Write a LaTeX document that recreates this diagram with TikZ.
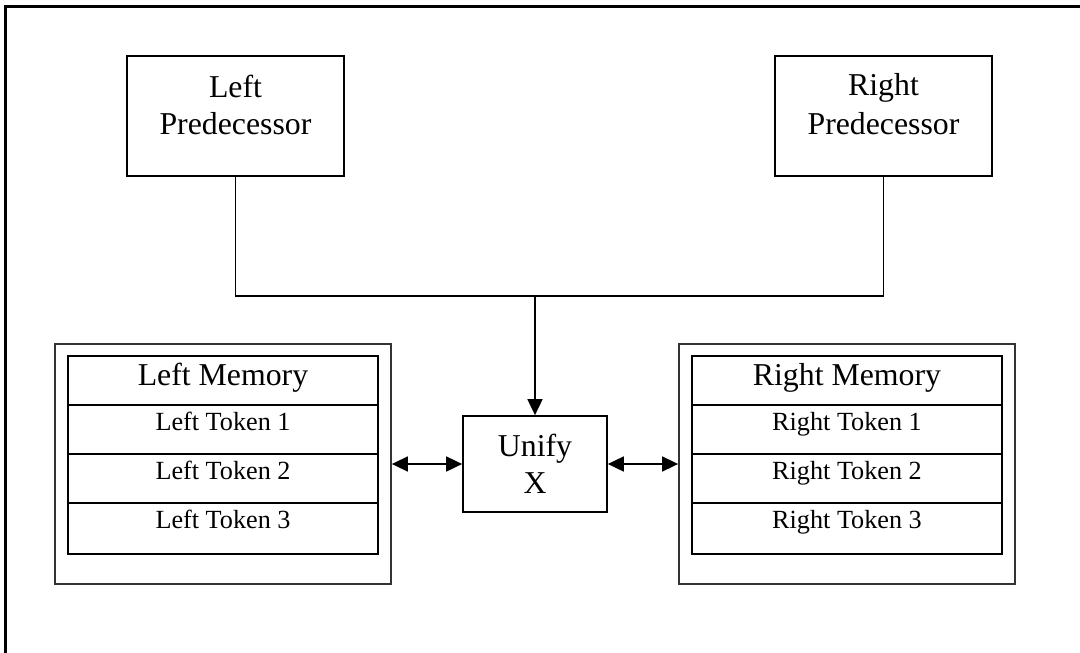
\documentclass[tikz,border=0pt]{standalone}
\usepackage{fontspec}
\setmainfont{Liberation Serif}
\usetikzlibrary{arrows.meta}
\begin{document}
\begin{tikzpicture}[x=1pt,y=-1pt,
  box/.style={draw,line width=1.7pt,inner sep=0pt},
  memframe/.style={draw=black!80,line width=1.8pt,inner sep=0pt},
  memrow/.style={draw,line width=2.3pt,inner sep=0pt,minimum width=310pt},
  bigtext/.style={font=\fontsize{31.8}{37.7}\selectfont,anchor=base,inner sep=0pt},
  smalltext/.style={font=\fontsize{26.2}{30}\selectfont,anchor=base,inner sep=0pt},
  link/.style={line width=1.7pt},
  head/.style={-{Triangle[length=16pt,width=15pt]}},
  twoheads/.style={{Triangle[length=16pt,width=15pt]}-{Triangle[length=16pt,width=15pt]}},
]
\useasboundingbox (0,0) rectangle (1080,653);
\clip (0,0) rectangle (1080,653);

% page frame (only its top and left edges fall inside the page)
\draw[line width=2.2pt] (5.5,6.5) rectangle (1100,680);

% predecessors
\node[box,minimum width=217pt,minimum height=120pt] (lp) at (235.5,116) {};
\node[bigtext] (lpa) at (235.5,97) {Left};
\node[bigtext] (lpb) at (235.5,134.7) {Predecessor};

\node[box,minimum width=217pt,minimum height=120pt] (rp) at (883.5,116) {};
\node[bigtext] (rpa) at (883.5,95.7) {Right};
\node[bigtext] (rpb) at (883.5,134) {Predecessor};

% unify node
\node[box,minimum width=144pt,minimum height=96pt] (ux) at (535,464) {};
\node[bigtext] (uxa) at (535,456) {Unify};
\node[bigtext] (uxb) at (535,493) {X};

% left memory
\node[memframe,minimum width=336pt,minimum height=240pt] (lmem) at (223,464) {};
\node[memrow,minimum height=49pt] (lm0) at (223,380.5) {};
\node[memrow,minimum height=49pt] (lm1) at (223,429.5) {};
\node[memrow,minimum height=49pt] (lm2) at (223,478.5) {};
\node[memrow,minimum height=51pt] (lm3) at (223,528.5) {};
\node[bigtext] (lmt0) at (223,385) {Left Memory};
\node[smalltext] (lmt1) at (223,430) {Left Token 1};
\node[smalltext] (lmt2) at (223,479) {Left Token 2};
\node[smalltext] (lmt3) at (223,528) {Left Token 3};

% right memory
\node[memframe,minimum width=336pt,minimum height=240pt] (rmem) at (847,464) {};
\node[memrow,minimum height=49pt] (rm0) at (847,380.5) {};
\node[memrow,minimum height=49pt] (rm1) at (847,429.5) {};
\node[memrow,minimum height=49pt] (rm2) at (847,478.5) {};
\node[memrow,minimum height=51pt] (rm3) at (847,528.5) {};
\node[bigtext] (rmt0) at (847,385) {Right Memory};
\node[smalltext] (rmt1) at (847,430) {Right Token 1};
\node[smalltext] (rmt2) at (847,479) {Right Token 2};
\node[smalltext] (rmt3) at (847,528) {Right Token 3};

% connectors
\coordinate (join) at (535,296);
\draw[link] (lp.south) |- (join) -| (rp.south);
\draw[link,head] (join) -- (ux.north);
\draw[link,twoheads] (lmem.east) -- (ux.west);
\draw[link,twoheads] (ux.east) -- (rmem.west);
\end{tikzpicture}
\end{document}
